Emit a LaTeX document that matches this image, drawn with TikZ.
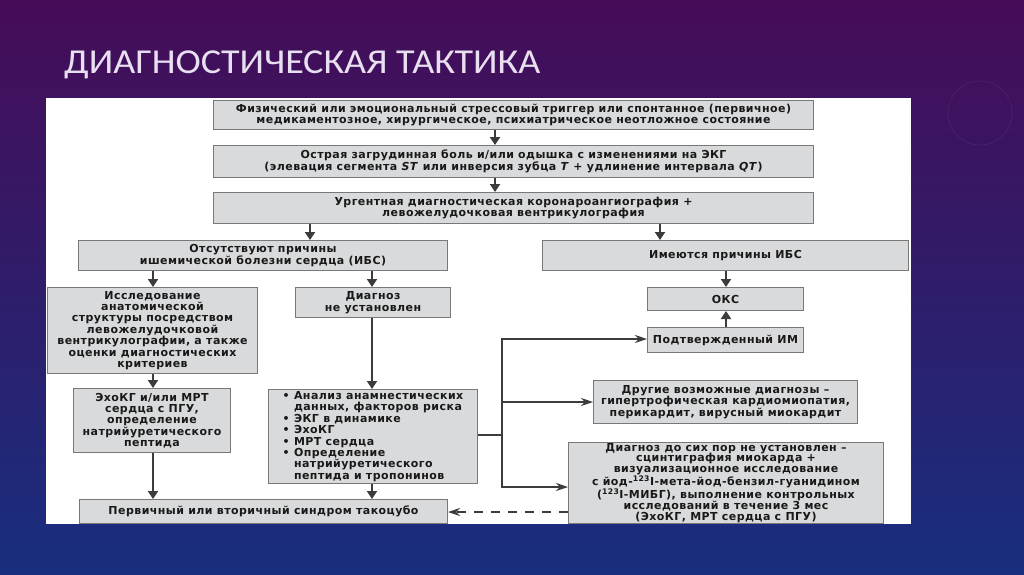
\documentclass[tikz,border=0pt]{standalone}
\usepackage{graphicx}
\usepackage{fontspec}
\setmainfont{DejaVu Sans}
\newfontfamily\boxfont[LetterSpace=4]{DejaVu Sans}
\newfontfamily\titlefont{Carlito}
\usetikzlibrary{arrows.meta}
\definecolor{bgtop}{RGB}{70,12,88}
\definecolor{bgmid}{RGB}{46,24,102}
\definecolor{bgbot}{RGB}{24,46,126}
\definecolor{boxfill}{RGB}{217,218,219}
\definecolor{boxline}{RGB}{120,120,120}
\definecolor{arrcol}{RGB}{60,60,60}
\definecolor{txtcol}{RGB}{25,25,25}
\definecolor{titlecol}{RGB}{232,224,240}
\tikzset{
  box/.style={draw=boxline, line width=1pt, fill=boxfill, anchor=north west,
    inner sep=1pt, align=center, text=txtcol,
    font=\boxfont\fontsize{11}{11.4}\selectfont\bfseries},
  tightbox/.style={box, inner sep=0pt, font=\boxfont\fontsize{11}{10.9}\selectfont\bfseries},
  varr/.style={draw=arrcol, line width=2.4pt, -{Triangle[width=10pt,length=8pt]}},
  harr/.style={draw=arrcol, line width=1.8pt, -{Stealth[width=8pt,length=12pt,inset=4pt]}},
  hline/.style={draw=arrcol, line width=1.8pt},
  darr/.style={draw=arrcol, line width=1.6pt, dash pattern=on 9pt off 8pt, -{Stealth[width=8pt,length=12pt,inset=4pt]}}
}
\begin{document}
\begin{tikzpicture}[x=1pt,y=-1pt]
\useasboundingbox (0,0) rectangle (1024,574);
\shade[top color=bgtop, middle color=bgmid, bottom color=bgbot] (0,0) rectangle (1024,574);
\draw[white, opacity=0.06, line width=0.8pt] (980,113) circle (32);
\node[anchor=base west, text=titlecol, font=\titlefont\fontsize{35}{40}\selectfont, inner sep=0pt] (title) at (64,73) {\scalebox{1.09}[1]{ДИАГНОСТИЧЕСКАЯ ТАКТИКА}};
\fill[white] (46,98) rectangle (911,524);
% boxes
\node[box, minimum width=600, minimum height=29] (b1) at (213,100) {Физический или эмоциональный стрессовый триггер или спонтанное (первичное)\\медикаментозное, хирургическое, психиатрическое неотложное состояние};
\node[box, minimum width=600, minimum height=32] (b2) at (213,145) {Острая загрудинная боль и/или одышка с изменениями на ЭКГ\\(элевация сегмента \textit{ST} или инверсия зубца \textit{T} + удлинение интервала \textit{QT})};
\node[box, minimum width=600, minimum height=31] (b3) at (213,192) {Ургентная диагностическая коронароангиография +\\левожелудочковая вентрикулография};
\node[box, minimum width=369, minimum height=30] (b4) at (78,240) {Отсутствуют причины\\ишемической болезни сердца (ИБС)};
\node[box, minimum width=366, minimum height=30] (b5) at (542,240) {Имеются причины ИБС};
\node[box, minimum width=210, minimum height=86] (b6) at (47,287) {Исследование\\анатомической\\структуры посредством\\левожелудочковой\\вентрикулографии, а также\\оценки диагностических\\критериев};
\node[box, minimum width=155, minimum height=30] (b7) at (295,287) {Диагноз\\не установлен};
\node[box, minimum width=156, minimum height=23] (b8) at (647,287) {ОКС};
\node[box, minimum width=156, minimum height=25] (b9) at (647,327) {Подтвержденный ИМ};
\node[box, minimum width=157, minimum height=64] (b10) at (73,388) {ЭхоКГ и/или МРТ\\сердца с ПГУ,\\определение\\натрийуретического\\пептида};
\node[box, minimum width=209, minimum height=94, align=left] (b11) at (268,389) {• Анализ анамнестических\\\phantom{• }данных, факторов риска\\• ЭКГ в динамике\\• ЭхоКГ\\• МРТ сердца\\• Определение\\\phantom{• }натрийуретического\\\phantom{• }пептида и тропонинов};
\node[box, minimum width=264, minimum height=43] (b12) at (593,380) {Другие возможные диагнозы –\\гипертрофическая кардиомиопатия,\\перикардит, вирусный миокардит};
\node[tightbox, minimum width=315, minimum height=81] (b13) at (568,442) {Диагноз до сих пор не установлен –\\сцинтиграфия миокарда +\\визуализационное исследование\\с йод-\textsuperscript{123}I-мета-йод-бензил-гуанидином\\(\textsuperscript{123}I-МИБГ), выполнение контрольных\\исследований в течение 3 мес\\(ЭхоКГ, МРТ сердца с ПГУ)};
\node[box, minimum width=368, minimum height=24] (b14) at (79,499) {Первичный или вторичный синдром такоцубо};
% helper x coordinates
\coordinate (xa) at (495,0);
\coordinate (xb) at (310,0);
\coordinate (xc) at (660,0);
\coordinate (xd) at (153,0);
\coordinate (xe) at (372,0);
\coordinate (xf) at (726,0);
\coordinate (xg) at (502,0);
\coordinate (ya) at (0,435);
\coordinate (yb) at (0,339);
\coordinate (yc) at (0,402);
\coordinate (yd) at (0,487);
\coordinate (ye) at (0,512);
% vertical arrows
\draw[varr] (xa |- b1.south) -- (xa |- b2.north);
\draw[varr] (xa |- b2.south) -- (xa |- b3.north);
\draw[varr] (xb |- b3.south) -- (xb |- b4.north);
\draw[varr] (xc |- b3.south) -- (xc |- b5.north);
\draw[varr] (xd |- b4.south) -- (xd |- b6.north);
\draw[varr] (xe |- b4.south) -- (xe |- b7.north);
\draw[varr] (xf |- b5.south) -- (xf |- b8.north);
\draw[varr] (xf |- b9.north) -- (xf |- b8.south);
\draw[varr] (xd |- b6.south) -- (xd |- b10.north);
\draw[varr] (xe |- b7.south) -- (xe |- b11.north);
\draw[varr] (xd |- b10.south) -- (xd |- b14.north);
\draw[varr] (xe |- b11.south) -- (xe |- b14.north);
% branch
\coordinate (br) at (xg |- ya);
\draw[hline] (b11.east |- ya) -- (br);
\draw[harr] (xg |- ya) -- (xg |- yb) -- (b9.west |- yb);
\draw[harr] (xg |- yc) -- (b12.west |- yc);
\draw[harr] (xg |- ya) -- (xg |- yd) -- (b13.west |- yd);
\draw[darr] (b13.west |- ye) -- (b14.east |- ye);
\end{tikzpicture}
\end{document}
